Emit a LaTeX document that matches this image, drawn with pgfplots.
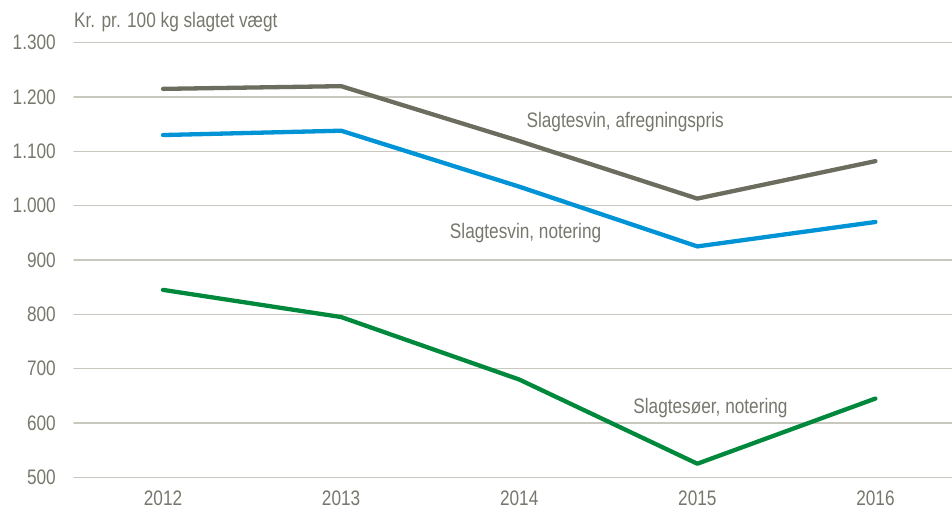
\documentclass[border=0pt]{standalone}
\usepackage{pgfplots}
\pgfplotsset{compat=1.18}
\usepackage{fontspec}
\setmainfont{Liberation Sans}[FakeStretch=0.82]
\definecolor{txt}{HTML}{77776E}
\definecolor{grd}{HTML}{C8C8BE}
\definecolor{cgray}{HTML}{6C6C5F}
\definecolor{cblue}{HTML}{0093D6}
\definecolor{cgreen}{HTML}{00893C}
\begin{document}
\fontsize{21pt}{25pt}\selectfont
\begin{tikzpicture}
\path[use as bounding box] (-74pt,-33.7pt) rectangle (878pt,477.3pt);
\begin{axis}[
  at={(0,0)}, anchor=south west,
  scale only axis, width=878pt, height=434.6pt,
  xmin=2011.5, xmax=2016.43, ymin=500, ymax=1300,
  xtick={2012,2013,2014,2015,2016},
  xticklabels={2012,2013,2014,2015,2016},
  ytick={500,600,...,1300},
  ymajorgrids, grid style={grd, line width=1.4pt},
  axis line style={draw=none},
  major tick length=0pt,
  tick label style={text=txt, font=\fontsize{21pt}{25pt}\selectfont},
  /pgf/number format/assume math mode=true,
  /pgf/number format/1000 sep={.},
  yticklabel style={xshift=-11pt},
  xticklabel style={yshift=-6pt},
  clip=false,
  line join=round, line cap=round,
]
\addplot[cgray, line width=4.3pt] coordinates {(2012,1215) (2013,1220) (2014,1119) (2015,1013) (2016,1082)};
\addplot[cblue, line width=4.3pt] coordinates {(2012,1130) (2013,1138) (2014,1035) (2015,925) (2016,970)};
\addplot[cgreen, line width=4.3pt] coordinates {(2012,845) (2013,795) (2014,680) (2015,525) (2016,645)};
\node[anchor=west, text=txt, inner sep=0pt] at (axis cs:2014.04,1154) {Slagtesvin, afregningspris};
\node[anchor=west, text=txt, inner sep=0pt] at (axis cs:2013.61,950) {Slagtesvin, notering};
\node[anchor=west, text=txt, inner sep=0pt] at (axis cs:2014.64,628) {Slagtesøer, notering};
\node[anchor=west, text=txt, inner sep=0pt] at ([yshift=21pt]rel axis cs:0,1) {Kr. pr. 100 kg slagtet vægt};
\end{axis}
\end{tikzpicture}
\end{document}
